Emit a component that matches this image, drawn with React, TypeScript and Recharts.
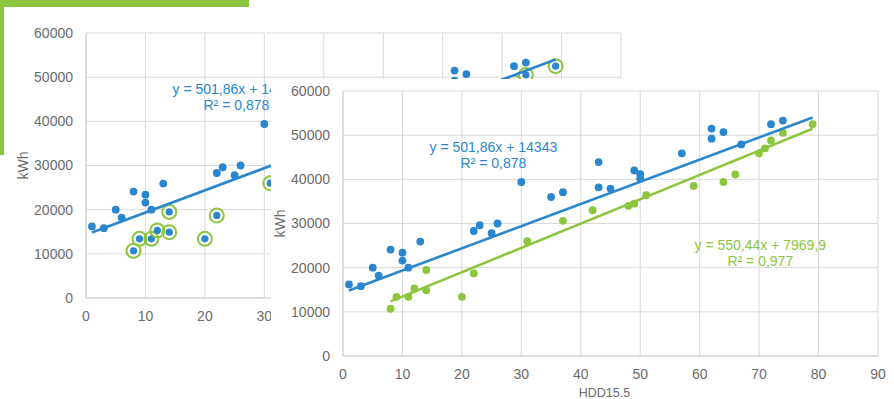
import React from 'react';
import { ScatterChart, Scatter, XAxis, YAxis, CartesianGrid, ReferenceDot, Label } from 'recharts';

// ---- data ----
const xTicks = [0, 10, 20, 30, 40, 50, 60, 70, 80, 90];
const yTicks = [0, 10000, 20000, 30000, 40000, 50000, 60000];
// x tick labels of the rear (partly covered) chart that stay visible
const backVisibleXTickMax = 30;

const blueHdd = [1, 3, 5, 6, 8, 10, 10, 11, 13, 22, 23, 25, 26, 30, 35, 37, 43, 43, 45, 49, 50, 50, 57, 62, 62, 64, 67, 72, 74];
const blueKwh = [16200, 15800, 20000, 18200, 24100, 23400, 21600, 20000, 25900, 28300, 29600, 27800, 30000, 39400, 36000, 37100, 43900, 38200, 37900, 42000, 41200, 40200, 45900, 51500, 49200, 50700, 47900, 52500, 53300];

const greenHdd = [8, 9, 11, 12, 14, 14, 20, 22, 31, 37, 42, 48, 49, 51, 59, 64, 66, 70, 71, 72, 74, 79];
const greenKwh = [10700, 13400, 13400, 15300, 19500, 14900, 13400, 18700, 26000, 30600, 33000, 34000, 34500, 36400, 38500, 39400, 41100, 45900, 47000, 48800, 50500, 52500];

const blueTrendHdd = [1, 79];
const blueTrendKwh = [14850, 53990];
const greenTrendHdd = [8, 79];
const greenTrendKwh = [12370, 51450];

const blueEquation = ['y = 501,86x + 14343', 'R² = 0,878'];
const greenEquation = ['y = 550,44x + 7969,9', 'R² = 0,977'];

const xTitle = 'HDD15.5';
const yTitle = 'kWh';

const toPoints = (xs: number[], ys: number[]) => xs.map((x, i) => ({ x, y: ys[i] }));
const blueData = toPoints(blueHdd, blueKwh);
const greenData = toPoints(greenHdd, greenKwh);
const blueTrend = toPoints(blueTrendHdd, blueTrendKwh);
const greenTrend = toPoints(greenTrendHdd, greenTrendKwh);

// ---- styles ----
const BLUE = '#2b87cd';
const GREEN = '#8cc63f';
const GRID = '#d9d9d9';
const TEXT = '#6b6b6b';
const FONT = "'Liberation Sans', Arial, sans-serif";

const W = 623;
const H = 320;

const noShape = () => <g />;

const blueDot = (p: any) => <circle cx={p.cx} cy={p.cy} r={3.9} fill={BLUE} />;
const greenDot = (p: any) => <circle cx={p.cx} cy={p.cy} r={3.9} fill={GREEN} />;
const ringDot = (p: any) => (
  <g>
    <circle cx={p.cx} cy={p.cy} r={7} fill="none" stroke={GREEN} strokeWidth={2} />
    <circle cx={p.cx} cy={p.cy} r={3.6} fill={BLUE} />
  </g>
);

const eqLabel = (lines: string[], color: string) => (props: any) => {
  const vb = props.viewBox || {};
  const cx = vb.x + (vb.width || 0) / 2;
  const cy = vb.y + (vb.height || 0) / 2;
  return (
    <g>
      {lines.map((t, i) => (
        <text key={i} x={cx} y={cy + i * 16} textAnchor="middle" dominantBaseline="central"
          fill={color} fontSize={14} fontFamily={FONT}>
          {t}
        </text>
      ))}
    </g>
  );
};

const yTitleContent = (props: any) => {
  const vb = props.viewBox || {};
  const x = vb.x + 9;
  const y = vb.y + vb.height / 2;
  return (
    <text x={x} y={y} transform={`rotate(-90 ${x} ${y})`} textAnchor="middle" dominantBaseline="central"
      fill={TEXT} fontSize={14} fontFamily={FONT}>
      {yTitle}
    </text>
  );
};

const makeXTick = (back: boolean) => (props: any) => {
  const { x, y, payload } = props;
  if (back && payload.value > backVisibleXTickMax) return <g />;
  return (
    <text x={x} y={y} dy="0.71em" textAnchor="middle" fill={TEXT} fontSize={14} fontFamily={FONT}>
      {payload.value}
    </text>
  );
};

function Chart({ back }: { back: boolean }) {
  const tick = { fill: TEXT, fontSize: 14, fontFamily: FONT };
  return (
    <ScatterChart width={W} height={H} margin={{ top: 12, right: 16, left: 0, bottom: 0 }}>
      <CartesianGrid stroke={GRID} strokeWidth={1} />
      <XAxis type="number" dataKey="x" domain={[0, 90]} ticks={xTicks} interval={0}
        tickLine={false} tickSize={0} tickMargin={13} axisLine={{ stroke: '#cfcfcf' }}
        tick={makeXTick(back)} height={43}>
        {back ? null : (
          <Label value={xTitle} position="insideBottom" offset={2} dx={-6} fill={TEXT} fontSize={12.5} fontFamily={FONT} />
        )}
      </XAxis>
      <YAxis type="number" dataKey="y" domain={[0, 60000]} ticks={yTicks} interval={0}
        tickLine={false} tickSize={0} tickMargin={13} axisLine={{ stroke: '#cfcfcf' }}
        tick={tick} width={72}>
        <Label content={yTitleContent} position="insideLeft" />
      </YAxis>
      {back ? (
        <>
          <Scatter name="blue" data={blueData} shape={blueDot} isAnimationActive={false} />
          <Scatter name="green" data={greenData} shape={ringDot} isAnimationActive={false} />
          <Scatter name="blueTrend" data={blueTrend} shape={noShape} line={{ stroke: BLUE, strokeWidth: 2.6 }} isAnimationActive={false} />
        </>
      ) : (
        <>
          <Scatter name="blue" data={blueData} shape={blueDot} isAnimationActive={false} />
          <Scatter name="green" data={greenData} shape={greenDot} isAnimationActive={false} />
          <Scatter name="blueTrend" data={blueTrend} shape={noShape} line={{ stroke: BLUE, strokeWidth: 2.6 }} isAnimationActive={false} />
          <Scatter name="greenTrend" data={greenTrend} shape={noShape} line={{ stroke: GREEN, strokeWidth: 2.6 }} isAnimationActive={false} />
          <ReferenceDot x={70.2} y={25100} r={0} fill="none" stroke="none" label={eqLabel(greenEquation, GREEN)} />
        </>
      )}
      <ReferenceDot x={25.3} y={47300} r={0} fill="none" stroke="none" label={eqLabel(blueEquation, BLUE)} />
    </ScatterChart>
  );
}

export default function App() {
  return (
    <div style={{ position: 'absolute', left: 0, top: 0, width: 894, height: 399, background: '#fff', overflow: 'hidden' }}>
      <div style={{ position: 'absolute', left: 0, top: 0, width: 249, height: 7, background: GREEN }} />
      <div style={{ position: 'absolute', left: 0, top: 0, width: 4, height: 155, background: GREEN }} />
      <div style={{ position: 'absolute', left: 14, top: 21 }}>
        <Chart back={true} />
      </div>
      <div style={{ position: 'absolute', left: 271, top: 79, width: W, height: H, background: '#fff' }}>
        <Chart back={false} />
      </div>
    </div>
  );
}
